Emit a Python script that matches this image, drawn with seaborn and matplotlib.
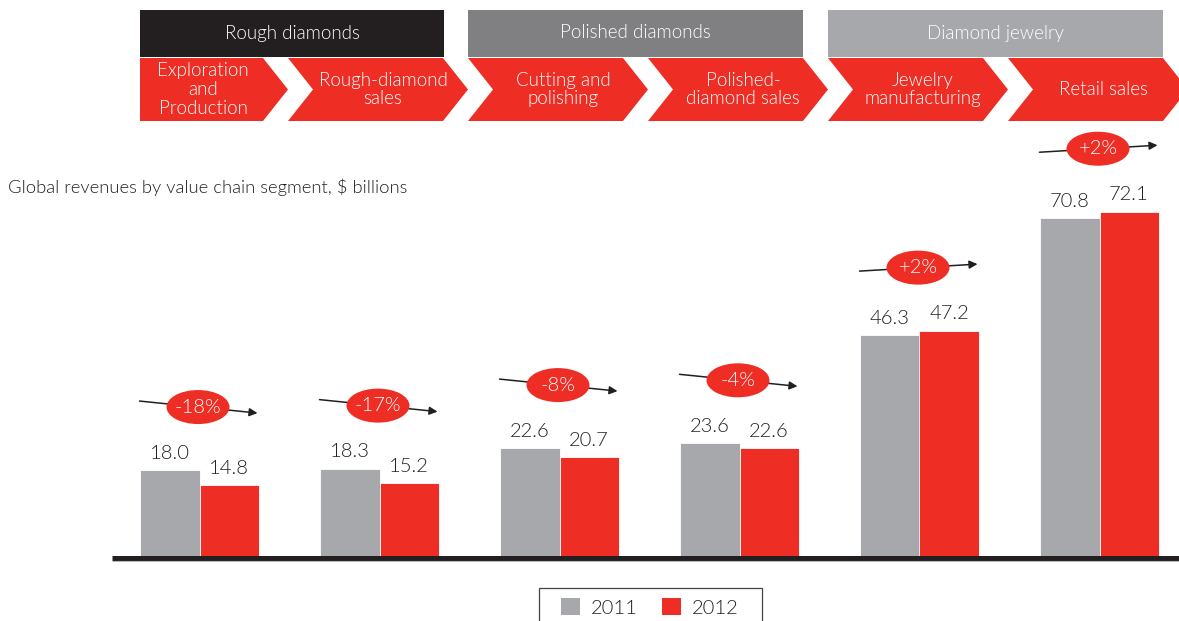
import matplotlib
matplotlib.use("Agg")
import matplotlib.pyplot as plt
import matplotlib.transforms as mtransforms
from matplotlib.patches import Polygon, Ellipse, Rectangle, Patch
import seaborn as sns
import pandas as pd

# ---------------- data ----------------
segments = ["Exploration\nand\nProduction", "Rough-diamond\nsales", "Cutting and\npolishing",
            "Polished-\ndiamond sales", "Jewelry\nmanufacturing", "Retail sales"]
values_2011 = [18.0, 18.3, 22.6, 23.6, 46.3, 70.8]
values_2012 = [14.8, 15.2, 20.7, 22.6, 47.2, 72.1]
changes = ["-18%", "-17%", "-8%", "-4%", "+2%", "+2%"]
years = ["2011", "2012"]
stages = ["Rough diamonds", "Polished diamonds", "Diamond jewelry"]
stage_span = [(0, 1), (2, 3), (4, 5)]
subtitle = "Global revenues by value chain segment, $ billions"

RED = "#EE2E24"
GRAY = "#A7A8AB"
DARK = "#231F20"
stage_colors = ["#231F20", "#808083", "#A7A8AB"]

df = pd.DataFrame({
    "segment": segments * 2,
    "year": [years[0]] * len(segments) + [years[1]] * len(segments),
    "value": values_2011 + values_2012,
})

W, H = 1179, 621
sns.set_theme(style="white")
plt.rcParams["font.family"] = ["Lato", "DejaVu Sans"]
plt.rcParams["font.weight"] = 300
fig = plt.figure(figsize=(W / 100, H / 100), dpi=100)
ax = fig.add_axes([0, 0, 1, 1])

sns.barplot(data=df, x="segment", y="value", hue="year", order=segments, hue_order=years,
            palette=[GRAY, RED], saturation=1, width=0.656, edgecolor="white", linewidth=0.6,
            legend=False, ax=ax, zorder=3)

PX_X = 180.0    # pixels per category
PX_Y = 4.775    # pixels per billion
BASE = 556.0
X0 = 199.5
ax.set_xlim(-X0 / PX_X, (W - X0) / PX_X)
ax.set_ylim(-(H - BASE) / PX_Y, BASE / PX_Y)
ax.axis("off")

def dx(px):
    return px / PX_X

def dy(px):
    return px / PX_Y

# value labels
for cont, vals in zip(ax.containers, [values_2011, values_2012]):
    ax.bar_label(cont, labels=[f"{v:.1f}" for v in vals], padding=6, fontsize=14.5, color=DARK)

# baseline
ax.plot([dx(112 - X0), 5.6], [dy(-1.5), dy(-1.5)], color=DARK, lw=3.6, solid_capstyle="butt", zorder=4)
ax.plot([dx(112 - X0), 5.6], [dy(-5), dy(-5)], color="#B8B8BA", lw=0.8, solid_capstyle="butt", zorder=4)

# change bubbles with arrows
for i, (a, b, ch) in enumerate(zip(values_2011, values_2012, changes)):
    yc = max(a, b) + dy(63)
    tilt = dy(6) if ch.startswith("-") else -dy(3.5)
    x0, x1 = i - dx(60), i + dx(58)
    ax.annotate("", xy=(x1, yc - tilt), xytext=(x0, yc + tilt),
                arrowprops=dict(arrowstyle="-|>", color=DARK, lw=1.1, mutation_scale=12,
                                shrinkA=0, shrinkB=0), zorder=5)
    ax.add_patch(Ellipse((i - dx(1.5), yc), dx(63), dy(34), facecolor=RED, edgecolor="none", zorder=6))
    ax.text(i - dx(1.5), yc, ch, ha="center", va="center", color="white", fontsize=14.5, zorder=7)

# header (x in data, y in figure pixels)
trans = mtransforms.blended_transform_factory(ax.transData, fig.transFigure)

def fy(px):
    return 1 - px / H

for (s, e), name, col in zip(stage_span, stages, stage_colors):
    left = s - dx(59.5) if s == 0 else s - dx(91.5)
    right = e + dx(64.5 if s == 0 else 63.5)
    ax.add_patch(Rectangle((left, fy(57)), right - left, fy(10) - fy(57), transform=trans,
                           facecolor=col, edgecolor="none", zorder=2, clip_on=False))
    ax.text((left + right) / 2, fy(33), name, transform=trans, ha="center", va="center",
            color="white", fontsize=13.5, zorder=3)

top, mid, bot = fy(58), fy(89.5), fy(121)
for k, seg in enumerate(segments):
    R = k + dx(63.5)
    if k == 0:
        L = k - dx(59.5)
        pts = [(L, top), (R, top), (R + dx(25), mid), (R, bot), (L, bot)]
    else:
        L = k - dx(91.5)
        pts = [(L, top), (R, top), (R + dx(25), mid), (R, bot), (L, bot), (L + dx(25), mid)]
    ax.add_patch(Polygon(pts, closed=True, transform=trans, facecolor=RED, edgecolor="none",
                         zorder=2, clip_on=False))
    ax.text(k + dx(3.5), mid, seg, transform=trans, ha="center", va="center", color="white",
            fontsize=13.5, linespacing=1.12, zorder=3)

fig.text(8 / W, fy(187), subtitle, ha="left", va="center", fontsize=13.2, color=DARK)

# legend
fig.patches.append(Rectangle((539 / W, fy(630)), (762 - 539) / W, (630 - 588) / H,
                             transform=fig.transFigure, facecolor="white", edgecolor="#444444",
                             linewidth=0.9))
handles = [Patch(facecolor=GRAY, edgecolor="none"), Patch(facecolor=RED, edgecolor="none")]
leg = fig.legend(handles, years, loc="upper center", bbox_to_anchor=(650 / W, fy(590)),
                 ncol=2, frameon=False, fontsize=14.5, handlelength=0.95, handleheight=0.95,
                 handletextpad=0.55, columnspacing=1.2, borderpad=0.4, borderaxespad=0)
for t in leg.get_texts():
    t.set_color(DARK)

fig.savefig("out.png", dpi=100)
